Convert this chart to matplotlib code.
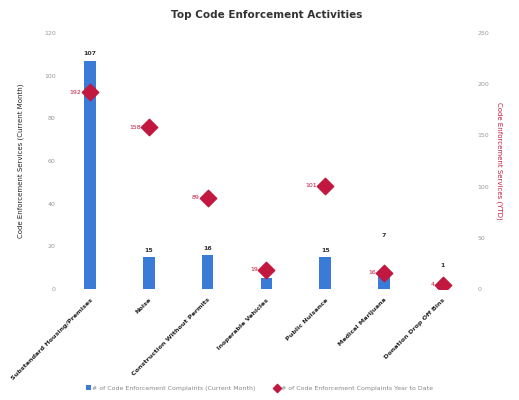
import matplotlib.pyplot as plt
import numpy as np

categories = ["Substandard Housing/Premises", "Noise", "Construction Without Permits",
              "Inoperable Vehicles", "Public Nuisance", "Medical Marijuana",
              "Donation Drop Off Bins"]
current_month = [107, 15, 16, 5, 15, 7, 1]
year_to_date = [192, 158, 89, 19, 101, 16, 4]

bar_color = "#3a7bd8"
dot_color = "#c2183f"
# extra lift for bar labels that sit under a diamond
label_lift = [0, 0, 0, 0, 0, 15, 7]

fig = plt.figure(figsize=(5.19, 4.0), dpi=100)
ax = fig.add_axes([0.1166, 0.2775, 0.7934, 0.64])
ax2 = ax.twinx()

x = np.arange(len(categories))
ax.bar(x, current_month, width=0.2, color=bar_color,
       label="# of Code Enforcement Complaints (Current Month)")
ax.set_xlim(-0.5, len(categories) - 0.5)
ax.set_ylim(0, 120)
ax.set_yticks(np.arange(0, 121, 20))

# value labels above the bars
for xi, v, lift in zip(x, current_month, label_lift):
    ax.text(xi, v + 2 + lift, str(v), ha="center", va="bottom", fontsize=4.5,
            color="#333333", fontweight="bold")

ax2.scatter(x, year_to_date, marker="D", s=70, color=dot_color, zorder=3,
            label="# of Code Enforcement Complaints Year to Date")
ax2.set_ylim(0, 250)
ax2.set_yticks(np.arange(0, 251, 50))
for xi, v in zip(x, year_to_date):
    ax2.text(xi - 0.14, v, str(v), ha="right", va="center", fontsize=4.5,
             color=dot_color)

for a in (ax, ax2):
    for s in a.spines.values():
        s.set_visible(False)
    a.tick_params(length=0, labelsize=4.5, colors="#999999")

ax.set_xticks(x)
ax.set_xticklabels(categories, rotation=45, ha="right", rotation_mode="anchor",
                   fontsize=4.6, color="#222222", fontweight="bold")
ax.tick_params(axis="x", pad=6)

ax.set_ylabel("Code Enforcement Services (Current Month)", fontsize=5,
              color="#222222", labelpad=14)
ax2.set_ylabel("Code Enforcement Services (YTD)", fontsize=5, color=dot_color,
               rotation=270, labelpad=10)

ax.set_title("Top Code Enforcement Activities", fontsize=7.5, fontweight="bold",
             color="#333333", pad=11)

h1, l1 = ax.get_legend_handles_labels()
h2, l2 = ax2.get_legend_handles_labels()
fig.legend(h1 + h2, l1 + l2, loc="center", bbox_to_anchor=(0.5, 0.03), ncol=2,
           frameon=False, fontsize=4.5, labelcolor="#888888",
           handlelength=0.8, handletextpad=0.3, columnspacing=3,
           markerscale=0.5)

plt.savefig("out.png", dpi=100)
